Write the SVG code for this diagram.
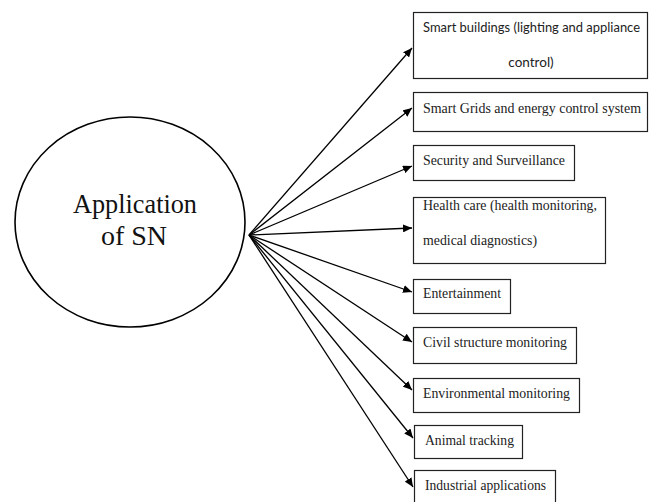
<svg xmlns="http://www.w3.org/2000/svg" width="649" height="502" viewBox="0 0 649 502">
<defs>
<marker id="ah" markerWidth="10" markerHeight="8" refX="9" refY="4" orient="auto" markerUnits="userSpaceOnUse">
<path d="M0,0 L9,4 L0,8 Z" fill="#000"/>
</marker>
<style>
.box{fill:#fff;stroke:#222;stroke-width:1.2}
.serif{font-family:'Liberation Serif','DejaVu Serif',serif;font-size:14px;fill:#222}
.big{font-family:'Liberation Serif','DejaVu Serif',serif;font-size:28px;fill:#111}
.sans{font-family:Lato,'Open Sans','Liberation Sans',sans-serif;font-size:13.5px;fill:#222}
.conn line{stroke:#000;stroke-width:1.3;marker-end:url(#ah)}
</style>
</defs>
<rect width="649" height="502" fill="#fff"/>
<g id="center">
<ellipse cx="130" cy="222" rx="115" ry="105" fill="none" stroke="#000" stroke-width="1.6"/>
<text class="big" x="135" y="213" text-anchor="middle" textLength="124" lengthAdjust="spacingAndGlyphs">Application</text>
<text class="big" x="134" y="245" text-anchor="middle">of SN</text>
</g>
<g id="connectors" class="conn">
<line x1="249" y1="235" x2="412" y2="48"/>
<line x1="249" y1="235" x2="412" y2="108"/>
<line x1="249" y1="235" x2="412" y2="166"/>
<line x1="249" y1="235" x2="412" y2="228"/>
<line x1="249" y1="235" x2="412" y2="292"/>
<line x1="249" y1="235" x2="412" y2="342"/>
<line x1="249" y1="235" x2="412" y2="390"/>
<line x1="249" y1="235" x2="413" y2="438"/>
<line x1="249" y1="235" x2="413" y2="487"/>
</g>
<g id="n1">
<rect class="box" x="413.5" y="12.5" width="234" height="66"/>
<text class="sans" x="423" y="32" textLength="217" lengthAdjust="spacingAndGlyphs">Smart buildings (lighting and appliance</text>
<text class="sans" x="531" y="67" text-anchor="middle">control)</text>
</g>
<g id="n2">
<rect class="box" x="413.5" y="92.5" width="234" height="39"/>
<text class="serif" x="423" y="113" textLength="218" lengthAdjust="spacingAndGlyphs">Smart Grids and energy control system</text>
</g>
<g id="n3">
<rect class="box" x="413.5" y="145.5" width="161" height="35"/>
<text class="serif" x="423" y="165" textLength="142" lengthAdjust="spacingAndGlyphs">Security and Surveillance</text>
</g>
<g id="n4">
<rect class="box" x="413.5" y="197.5" width="192" height="66"/>
<text class="serif" x="423" y="210" textLength="174" lengthAdjust="spacingAndGlyphs">Health care (health monitoring,</text>
<text class="serif" x="423" y="245" textLength="114" lengthAdjust="spacingAndGlyphs">medical diagnostics)</text>
</g>
<g id="n5">
<rect class="box" x="413.5" y="279.5" width="97" height="34"/>
<text class="serif" x="423" y="298" textLength="78" lengthAdjust="spacingAndGlyphs">Entertainment</text>
</g>
<g id="n6">
<rect class="box" x="413.5" y="327.5" width="163" height="36"/>
<text class="serif" x="423" y="347" textLength="144" lengthAdjust="spacingAndGlyphs">Civil structure monitoring</text>
</g>
<g id="n7">
<rect class="box" x="413.5" y="378.5" width="166" height="34"/>
<text class="serif" x="423" y="398" textLength="147" lengthAdjust="spacingAndGlyphs">Environmental monitoring</text>
</g>
<g id="n8">
<rect class="box" x="414.5" y="425.5" width="108" height="33"/>
<text class="serif" x="425" y="445" textLength="89" lengthAdjust="spacingAndGlyphs">Animal tracking</text>
</g>
<g id="n9">
<rect class="box" x="414.5" y="470.5" width="141" height="40"/>
<text class="serif" x="425" y="490" textLength="121" lengthAdjust="spacingAndGlyphs">Industrial applications</text>
</g>
</svg>
